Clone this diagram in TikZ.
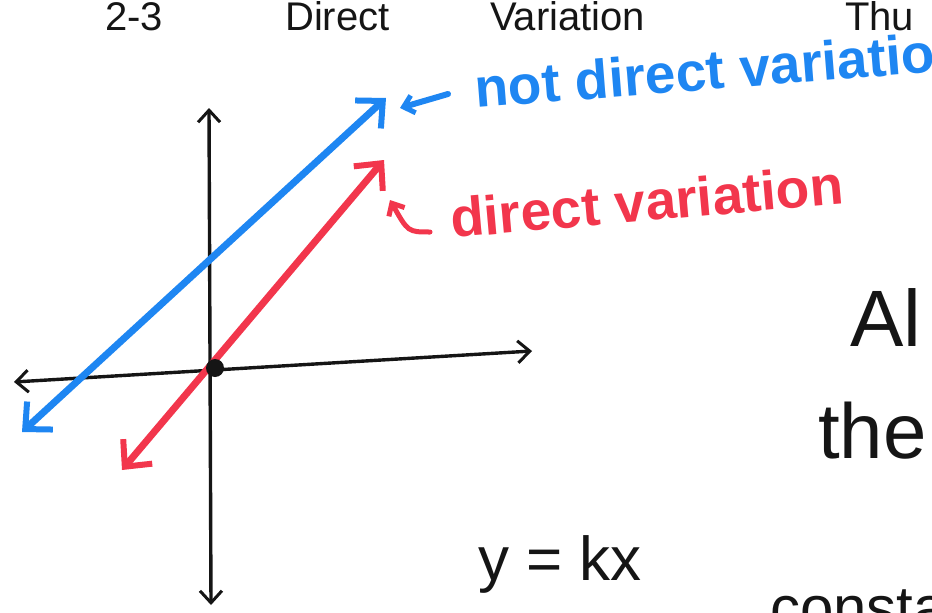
\documentclass[tikz,border=0pt]{standalone}
\usepackage{fontspec}
\setmainfont{Liberation Sans}
\usepackage[svgnames, x11names]{xcolor}
\usetikzlibrary{arrows.meta, positioning, calc}
\definecolor{PenBlue}{HTML}{1E86F2}
\definecolor{PenRed}{HTML}{F2364C}
\definecolor{PenBlack}{HTML}{151515}

\begin{document}
\begin{tikzpicture}[x = 1pt, y = -1pt,
						axis/.style = {draw = PenBlack, line width = 3.4pt, line cap = round, {Straight Barb[length = 12pt, width = 22pt, line width = 3pt]}-{Straight Barb[length = 12pt, width = 22pt, line width = 3pt]}},
						pen/.style = {line width = 7pt, line cap = round, {Straight Barb[length = 20pt, width = 38pt, line width = 6pt]}-{Straight Barb[length = 20pt, width = 38pt, line width = 6pt]}},
						note/.style = {inner sep = 0pt, anchor = base west, font = \fontsize{55}{55}\selectfont\bfseries}]
						\path [use as bounding box, draw = none] (0, 0) rectangle (932, 613);
						\clip (0, 0) rectangle (932, 613);
						% heading
						\node [inner sep = 0pt, anchor = base west, font = \fontsize{40}{40}\selectfont, text = PenBlack] (num) at (105, 30) {2-3};
						\node [inner sep = 0pt, anchor = base west, font = \fontsize{40}{40}\selectfont, text = PenBlack] (topic) at (285, 30) {Direct};
						\node [inner sep = 0pt, anchor = base west, font = \fontsize{40}{40}\selectfont, text = PenBlack] (topic2) at (490, 30) {Variation};
						\node [inner sep = 0pt, anchor = base west, font = \fontsize{40}{40}\selectfont, text = PenBlack] (day) at (845, 30) {Thu};
						% axes
						\coordinate (yTop) at (209, 108);
						\coordinate (yBot) at (211, 605);
						\coordinate (xLeft) at (14, 382);
						\coordinate (xRight) at (532, 351);
						\draw [axis] (yBot) -- (yTop);
						\draw [axis] (xLeft) -- (xRight);
						% the two lines
						\coordinate (blueTop) at (386, 98);
						\coordinate (blueBot) at (22, 432);
						\coordinate (redTop) at (384, 160);
						\coordinate (redBot) at (122, 470);
						\draw [pen, PenBlue] (blueBot) -- (blueTop);
						\draw [pen, PenRed] (redBot) -- (redTop);
						\node [circle, fill = PenBlack, inner sep = 0pt, minimum size = 18pt] (origin) at (215, 368) {};
						% labels
						\node [note, text = PenBlue, rotate = 4.5] (notdv) at (476, 108) {not direct variation};
						\node [note, text = PenRed, rotate = 5] (dv) at (452, 238) {direct variation};
						\coordinate (blueTail) at (448, 94);
						\coordinate (blueTip) at (400, 108);
						\draw [PenBlue, line width = 6pt, line cap = round, -{Straight Barb[length = 10pt, width = 18pt, line width = 5pt]}] (blueTail) -- (blueTip);
						\coordinate (redTail) at (430, 232);
						\coordinate (redTip) at (390, 200);
						\draw [PenRed, line width = 5pt, line cap = round, -{Straight Barb[length = 10pt, width = 18pt, line width = 5pt]}] (redTail) .. controls (408, 232) .. (redTip);
						% right side notes
						\node [inner sep = 0pt, anchor = base west, font = \fontsize{80}{80}\selectfont, text = PenBlack] (also) at (850, 346) {Al};
						\node [inner sep = 0pt, anchor = base west, font = \fontsize{78}{78}\selectfont, text = PenBlack] (the) at (818, 458) {the};
						\node [inner sep = 0pt, anchor = base west, font = \fontsize{62}{62}\selectfont, text = PenBlack] (formula) at (478, 580) {y = kx};
						\node [inner sep = 0pt, anchor = base west, font = \fontsize{60}{60}\selectfont, text = PenBlack] (const) at (770, 628) {constant};
					\end{tikzpicture}
\end{document}
